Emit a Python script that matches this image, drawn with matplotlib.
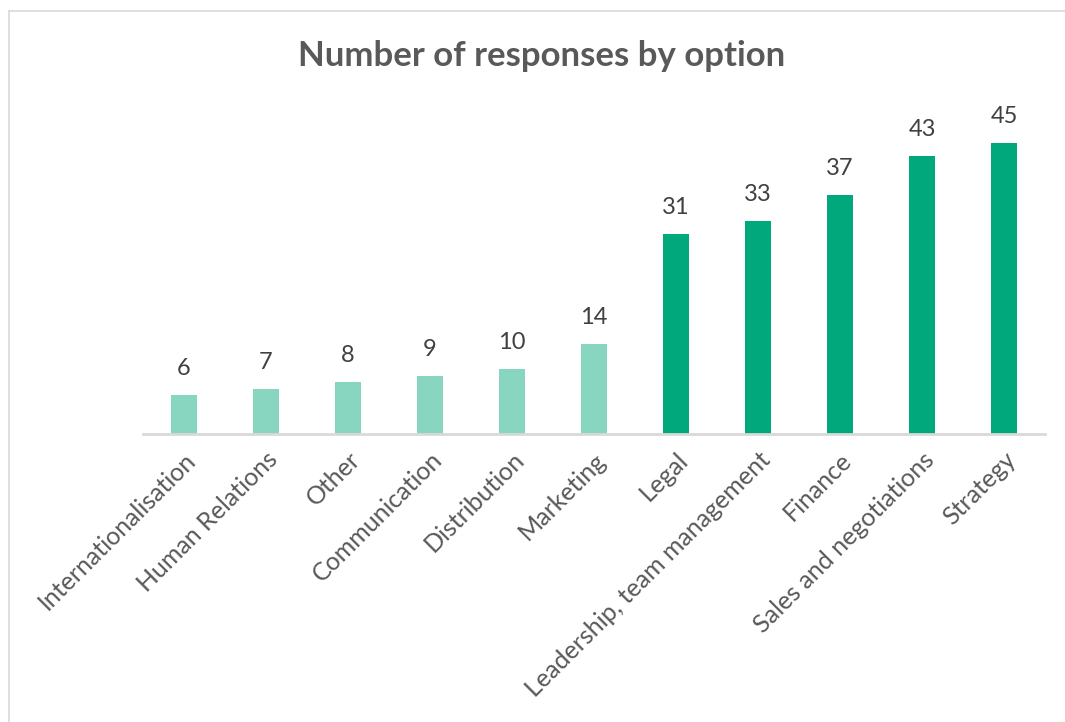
import matplotlib.pyplot as plt
from matplotlib.lines import Line2D

# responses per option, sorted ascending
options = ["Internationalisation", "Human Relations", "Other", "Communication",
           "Distribution", "Marketing", "Legal", "Leadership, team management",
           "Finance", "Sales and negotiations", "Strategy"]
responses = [6, 7, 8, 9, 10, 14, 31, 33, 37, 43, 45]

light_green = "#88D6C0"
dark_green = "#00A87C"
colors = [light_green if v < 20 else dark_green for v in responses]

plt.rcParams['font.family'] = ['Lato', 'DejaVu Sans']

fig = plt.figure(figsize=(10.65, 7.22), dpi=100)
ax = fig.add_axes([0.1343, 0.3989, 0.847, 0.4474])

x = range(len(options))
bars = ax.bar(x, responses, width=0.32, color=colors)

for xi, v in zip(x, responses):
    ax.text(xi, v + 4.1, str(v), ha="center", va="center",
            fontsize=17, color="#404040")

ax.set_xlim(-0.5, len(options) - 0.5)
ax.set_ylim(0, 50)
ax.set_xticks(list(x))
ax.set_xticklabels(options, rotation=45, ha="right", rotation_mode="anchor",
                   fontsize=18, color="#595959")
ax.tick_params(axis="x", length=0, pad=10)
ax.set_yticks([])
for side in ["top", "right", "left"]:
    ax.spines[side].set_visible(False)
ax.spines["bottom"].set_color("#D9D9D9")
ax.spines["bottom"].set_linewidth(2)

fig.text(0.509, 0.922, "Number of responses by option", ha="center", va="center",
         fontsize=25, fontweight="bold", color="#595959")

# chart frame (only top and left edges fall inside the canvas)
fig.add_artist(Line2D([9 / 1065, 1.0], [1 - 11 / 722, 1 - 11 / 722],
                      transform=fig.transFigure, color="#D9D9D9", lw=1.2))
fig.add_artist(Line2D([9 / 1065, 9 / 1065], [0.0, 1 - 11 / 722],
                      transform=fig.transFigure, color="#D9D9D9", lw=1.2))

fig.savefig("out.png", dpi=100)
